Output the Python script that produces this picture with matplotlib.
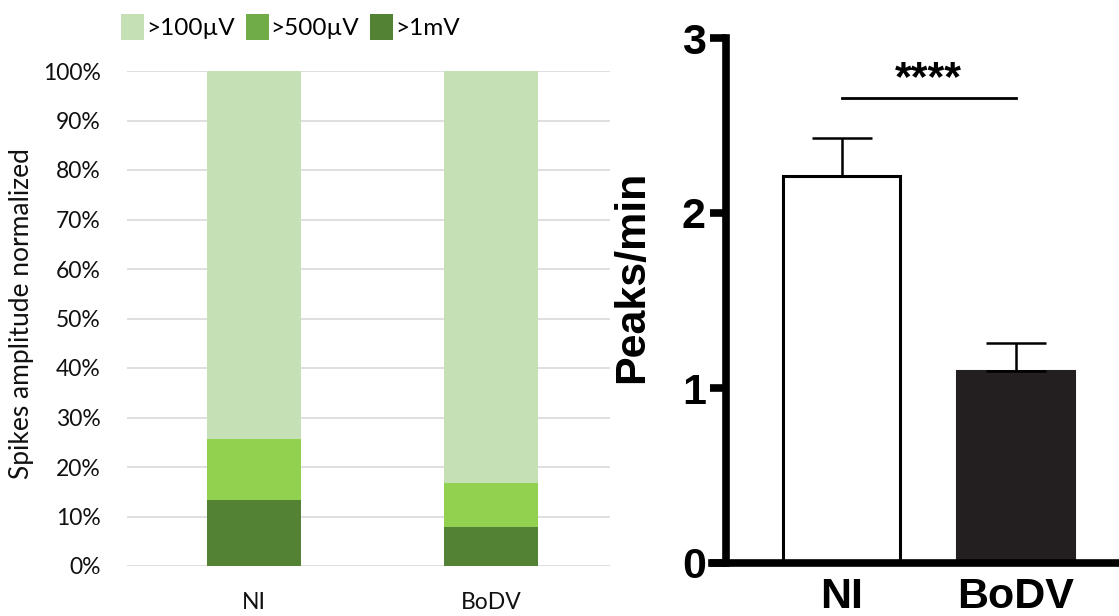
import matplotlib
matplotlib.use("Agg")
import matplotlib.pyplot as plt
from matplotlib.patches import Patch
import numpy as np

# ---- data ----
groups = ["NI", "BoDV"]
amp_1mV = [13.4, 7.9]
amp_500uV = [12.3, 8.9]
amp_100uV = [74.3, 83.2]
legend_labels = [">100µV", ">500µV", ">1mV"]
pct_ticks = [0, 10, 20, 30, 40, 50, 60, 70, 80, 90, 100]

peaks_mean = [2.21, 1.10]
peaks_sem = [0.22, 0.16]
peaks_ticks = [0, 1, 2, 3]
sig_text = "****"

W, H = 1119, 616
fig = plt.figure(figsize=(W / 100, H / 100), dpi=100)

def px_axes(x0, x1, ytop, ybot):
    return fig.add_axes([x0 / W, (H - ybot) / H, (x1 - x0) / W, (ybot - ytop) / H])

# ---- left: stacked percentage bars ----
c_light, c_mid, c_dark = "#C5E0B4", "#92D050", "#548235"
c_mid_leg = "#70AD47"
lfont = ["Lato", "DejaVu Sans"]

axL = px_axes(127, 610, 71, 566)
x = np.arange(len(groups))
bw = 0.397
axL.bar(x, amp_1mV, bw, color=c_dark, zorder=3)
axL.bar(x, amp_500uV, bw, bottom=amp_1mV, color=c_mid, zorder=3)
axL.bar(x, amp_100uV, bw, bottom=np.add(amp_1mV, amp_500uV), color=c_light, zorder=3)
axL.set_xlim((127 - 254) / 237, (610 - 254) / 237)
axL.set_ylim(0, 100)
axL.set_yticks(pct_ticks)
axL.set_yticklabels([f"{t}%" for t in pct_ticks], fontfamily=lfont, fontsize=16.5, color="#111111")
axL.set_xticks(x)
axL.set_xticklabels(groups, fontfamily=lfont, fontsize=16.5, color="#111111")
axL.tick_params(axis="both", length=0)
axL.tick_params(axis="y", pad=19)
axL.tick_params(axis="x", pad=19)
axL.grid(axis="y", color="#D9D9D9", linewidth=1.2, zorder=0)
axL.set_axisbelow(True)
for s in axL.spines.values():
    s.set_visible(False)
axL.set_ylabel("Spikes amplitude normalized", fontfamily=lfont, fontsize=19, color="#111111")
axL.yaxis.set_label_coords((34 - 127) / (610 - 127), 0.51)

handles = [Patch(facecolor=c_light), Patch(facecolor=c_mid_leg), Patch(facecolor=c_dark)]
fig.legend(handles, legend_labels, loc="upper left", bbox_to_anchor=(121 / W, 1 - 14 / H),
           ncol=3, frameon=False, handlelength=0.95, handleheight=1.25, handletextpad=0.08,
           columnspacing=0.45, borderaxespad=0, borderpad=0,
           prop={"family": lfont, "size": 17.5})

# ---- right: peaks/min bar chart ----
rfont = ["Liberation Sans", "DejaVu Sans"]
axR = px_axes(726, 1119, 38, 563)
xr = np.arange(len(groups))
bwr = 117 / 174
axR.bar(xr, peaks_mean, bwr, color=["white", "#231F20"], edgecolor=["black", "#231F20"],
        linewidth=2.2, zorder=2)
axR.errorbar(xr, peaks_mean, yerr=[np.zeros(len(peaks_sem)), peaks_sem], fmt="none",
             ecolor="black", elinewidth=1.8, capsize=21.5, capthick=1.8, zorder=3)
axR.set_xlim((726 - 841.5) / 174, (1119 - 841.5) / 174)
axR.set_ylim(0, 3)
axR.set_yticks(peaks_ticks)
axR.set_yticklabels([str(t) for t in peaks_ticks], fontfamily=rfont, fontsize=31, fontweight="bold")
axR.set_xticks(xr)
axR.set_xticklabels(groups, fontfamily=rfont, fontsize=31, fontweight="bold")
axR.tick_params(axis="x", length=0, pad=10)
axR.tick_params(axis="y", length=11.5, width=5.5, pad=3)
for side in ["top", "right"]:
    axR.spines[side].set_visible(False)
for side in ["left", "bottom"]:
    axR.spines[side].set_linewidth(5.5)
    axR.spines[side].set_capstyle("projecting")
axR.spines["bottom"].set_bounds((712 - 841.5) / 174, (1119 - 841.5) / 174)
axR.set_ylabel("Peaks/min", fontfamily=rfont, fontsize=31, fontweight="bold")
axR.yaxis.set_label_coords((652 - 726) / 393, 0.545)

axR.plot([xr[0], xr[1]], [2.66, 2.66], color="black", linewidth=2.0, clip_on=False)
axR.text((xr[0] + xr[1]) / 2, 2.765, sig_text, ha="center", va="center",
         fontfamily=rfont, fontsize=31, fontweight="bold")

fig.savefig("out.png", dpi=100)
